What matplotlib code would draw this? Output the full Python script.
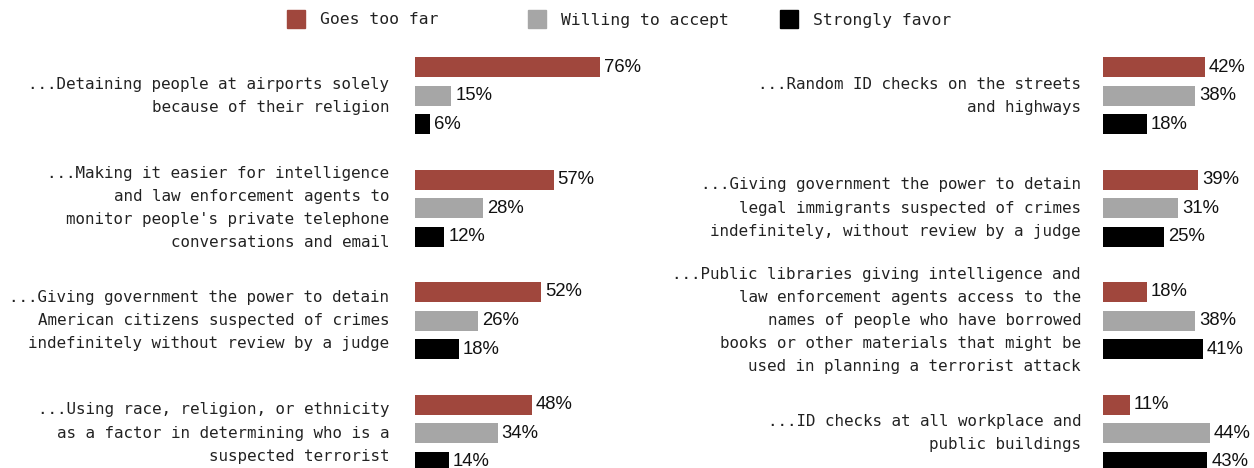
import matplotlib
matplotlib.use("Agg")
import matplotlib.pyplot as plt
import matplotlib.transforms as mtransforms
from matplotlib.patches import Rectangle

# Ответы по мерам безопасности, в процентах
left_items = [
    "...Detaining people at airports solely\nbecause of their religion",
    "...Making it easier for intelligence\nand law enforcement agents to\nmonitor people's private telephone\nconversations and email",
    "...Giving government the power to detain\nAmerican citizens suspected of crimes\nindefinitely without review by a judge",
    "...Using race, religion, or ethnicity\nas a factor in determining who is a\nsuspected terrorist",
]
left_far = [76, 57, 52, 48]
left_accept = [15, 28, 26, 34]
left_favor = [6, 12, 18, 14]

right_items = [
    "...Random ID checks on the streets\nand highways",
    "...Giving government the power to detain\nlegal immigrants suspected of crimes\nindefinitely, without review by a judge",
    "...Public libraries giving intelligence and\nlaw enforcement agents access to the\nnames of people who have borrowed\nbooks or other materials that might be\nused in planning a terrorist attack",
    "...ID checks at all workplace and\npublic buildings",
]
right_far = [42, 39, 18, 11]
right_accept = [38, 31, 38, 44]
right_favor = [18, 25, 41, 43]

series_names = ["Goes too far", "Willing to accept", "Strongly favor"]
colors = ["#A0473D", "#A6A6A6", "#000000"]

W, H = 1254, 468
fig = plt.figure(figsize=(W / 100, H / 100), dpi=100)

PX_PER_PCT = 2.43
FIRST_ROW = 67      # центр первой полосы, пиксели сверху
GROUP_STEP = 112.5
ROW_STEP = 28.6
BAR_H = 20
LABEL_FONT = "DejaVu Sans Mono"


def draw_panel(x0, xmax, items, far, accept, favor, pad):
    ax = fig.add_axes([x0 / W, 0, xmax * PX_PER_PCT / W, 1])
    ax.set_xlim(0, xmax)
    ax.set_ylim(H, 0)
    ax.axis("off")
    shift = mtransforms.offset_copy(ax.transData, fig=fig, x=4, y=0, units="dots")
    lab = mtransforms.offset_copy(ax.transData, fig=fig, x=-pad, y=0, units="dots")
    for g, vals in enumerate(zip(far, accept, favor)):
        base = FIRST_ROW + g * GROUP_STEP
        for k, v in enumerate(vals):
            y = base + k * ROW_STEP
            ax.barh(y, v, height=BAR_H, color=colors[k], clip_on=False)
            ax.text(v, y, f"{v}%", transform=shift, ha="left", va="center",
                    fontsize=13.3, family="Liberation Sans", color="#111111")
        ax.text(0, base + ROW_STEP, items[g], transform=lab, ha="right",
                va="center", fontsize=11.4, color="#222222", linespacing=1.68,
                family=LABEL_FONT)
    return ax


draw_panel(415, 100, left_items, left_far, left_accept, left_favor, 26)
draw_panel(1103, 60, right_items, right_far, right_accept, right_favor, 22)

# Легенда сверху
for name, c, x in zip(series_names, colors, [287, 528, 780]):
    fig.patches.append(Rectangle((x / W, 1 - 28 / H), 18 / W, 18 / H,
                                 transform=fig.transFigure, color=c))
    fig.text((x + 33) / W, 1 - 20 / H, name, ha="left", va="center",
             fontsize=11.8, color="#222222", family=LABEL_FONT)

fig.savefig("out.png", dpi=100)
